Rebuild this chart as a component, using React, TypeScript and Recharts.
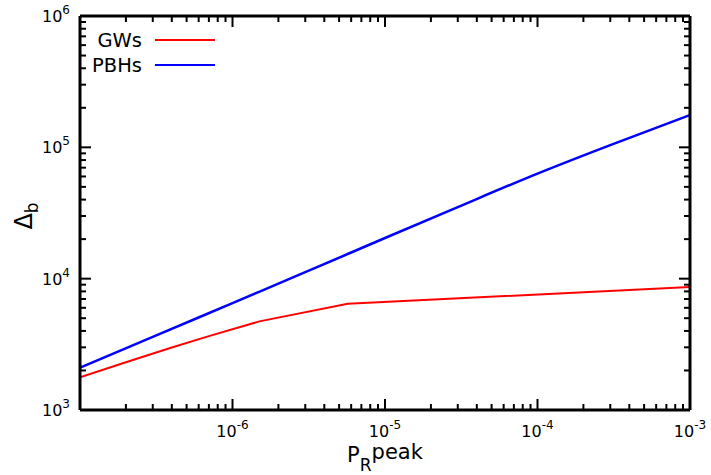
import { LineChart, Line, XAxis, YAxis, Legend, Label } from "recharts"

// P_R^peak values and Delta_b
const gwX = [1e-7, 2e-7, 4e-7, 7e-7, 1.5e-6, 5.7e-6, 1e-3]
const gwY = [1775, 2310, 2990, 3650, 4730, 6440, 8650]

const pbhX = [1e-7, 3e-7, 1e-6, 3e-6, 1e-5, 3e-5, 1e-4, 3e-4, 1e-3]
const pbhY = [2100, 3600, 6520, 11200, 20400, 35100, 63100, 104000, 176000]

const xDecades = [-7, -6, -5, -4]
const yDecades = [3, 4, 5]
const xLabelExps = [-6, -5, -4, -3]
const yLabelExps = [3, 4, 5, 6]

const minorTicks = (decades: number[], last: number) => {
  const out: number[] = []
  decades.forEach((d) => {
    for (let m = 1; m <= 9; m++) out.push(m * Math.pow(10, d))
  })
  out.push(Math.pow(10, last))
  return out
}

const xTicks = minorTicks(xDecades, -3)
const yTicks = minorTicks(yDecades, 6)

const gwData = gwX.map((x, i) => ({ x, y: gwY[i] }))
const pbhData = pbhX.map((x, i) => ({ x, y: pbhY[i] }))

const FONT = "DejaVu Sans, Verdana, sans-serif"

const expOf = (v: number) => {
  const e = Math.round(Math.log10(v))
  return Math.abs(Math.log10(v) - e) < 1e-6 ? e : null
}

function Tick(props: any) {
  const { x, y, payload, side } = props
  const e = expOf(payload.value)
  const major = e !== null
  const len = major ? 11 : 6
  let line
  if (side === "bottom") line = <line x1={x} y1={y} x2={x} y2={y - len} />
  else if (side === "top") line = <line x1={x} y1={y} x2={x} y2={y + len} />
  else if (side === "left") line = <line x1={x} y1={y} x2={x + len} y2={y} />
  else line = <line x1={x} y1={y} x2={x - len} y2={y} />

  let label = null
  if (side === "bottom" && major && xLabelExps.includes(e as number)) {
    label = (
      <text x={x} y={y + 27} textAnchor="middle" fontSize={16} fontFamily={FONT} fill="#000">
        10<tspan dy={-8} fontSize={12}>{e}</tspan>
      </text>
    )
  }
  if (side === "left" && major && yLabelExps.includes(e as number)) {
    label = (
      <text x={x - 10} y={y + 6} textAnchor="end" fontSize={16} fontFamily={FONT} fill="#000">
        10<tspan dy={-8} fontSize={12}>{e}</tspan>
      </text>
    )
  }
  return (
    <g stroke="#000" strokeWidth={2}>
      {line}
      {label && <g stroke="none">{label}</g>}
    </g>
  )
}

function XTitle(props: any) {
  const { viewBox } = props
  const cx = viewBox.x + viewBox.width / 2
  return (
    <text x={cx} y={viewBox.y + 52} textAnchor="middle" fontFamily={FONT} fontSize={21} fill="#000">
      P<tspan dy={9} fontSize={17}>R</tspan>
      <tspan dy={-12} fontSize={21}>peak</tspan>
    </text>
  )
}

function YTitle(props: any) {
  const { viewBox } = props
  const cx = viewBox.x - 47
  const cy = viewBox.y + viewBox.height / 2 + 3
  return (
    <text x={cx} y={cy} transform={`rotate(-90, ${cx}, ${cy})`} textAnchor="middle" fontFamily={FONT} fontSize={24} fill="#000">
      Δ<tspan dy={6} fontSize={17}>b</tspan>
    </text>
  )
}

function LegendBox(props: any) {
  const items = props.payload || []
  return (
    <svg width={150} height={52}>
      {items.map((it: any, i: number) => (
        <g key={it.value}>
          <text x={62} y={12 + i * 25 + 7} textAnchor="end" fontFamily={FONT} fontSize={19.5} fill="#000">
            {it.value}
          </text>
          <line x1={75} x2={135} y1={12 + i * 25} y2={12 + i * 25} stroke={it.color} strokeWidth={2.2} />
        </g>
      ))}
    </svg>
  )
}

export default function App() {
  return (
    <div style={{ position: "absolute", left: 0, top: 0, background: "#fff" }}>
      <LineChart width={711} height={475} margin={{ top: 15, right: 20, bottom: 64, left: 79 }}>
        <XAxis
          dataKey="x"
          type="number"
          scale="log"
          domain={[1e-7, 1e-3]}
          allowDataOverflow
          ticks={xTicks}
          interval={0}
          height={1}
          tickSize={0}
          tickMargin={0}
          tick={<Tick side="bottom" />}
          axisLine={{ stroke: "#000", strokeWidth: 3 }}
        >
          <Label content={<XTitle />} />
        </XAxis>
        <XAxis
          xAxisId="top"
          orientation="top"
          dataKey="x"
          type="number"
          scale="log"
          domain={[1e-7, 1e-3]}
          allowDataOverflow
          ticks={xTicks}
          interval={0}
          height={1}
          tickSize={0}
          tickMargin={0}
          tick={<Tick side="top" />}
          axisLine={{ stroke: "#000", strokeWidth: 3 }}
        />
        <YAxis
          dataKey="y"
          type="number"
          scale="log"
          domain={[1e3, 1e6]}
          allowDataOverflow
          ticks={yTicks}
          interval={0}
          width={1}
          tickSize={0}
          tickMargin={0}
          tick={<Tick side="left" />}
          axisLine={{ stroke: "#000", strokeWidth: 3 }}
        >
          <Label content={<YTitle />} />
        </YAxis>
        <YAxis
          yAxisId="right"
          orientation="right"
          dataKey="y"
          type="number"
          scale="log"
          domain={[1e3, 1e6]}
          allowDataOverflow
          ticks={yTicks}
          interval={0}
          width={1}
          tickSize={0}
          tickMargin={0}
          tick={<Tick side="right" />}
          axisLine={{ stroke: "#000", strokeWidth: 3 }}
        />
        <Legend
          layout="vertical"
          align="center"
          verticalAlign="middle"
          content={<LegendBox />}
          wrapperStyle={{ left: 80, top: 28, width: 150, height: 52 }}
        />
        <Line data={gwData} dataKey="y" name="GWs" stroke="#ff0000" strokeWidth={2} dot={false} isAnimationActive={false} />
        <Line data={pbhData} dataKey="y" name="PBHs" type="monotone" stroke="#0000ff" strokeWidth={2.5} dot={false} isAnimationActive={false} />
      </LineChart>
    </div>
  )
}
